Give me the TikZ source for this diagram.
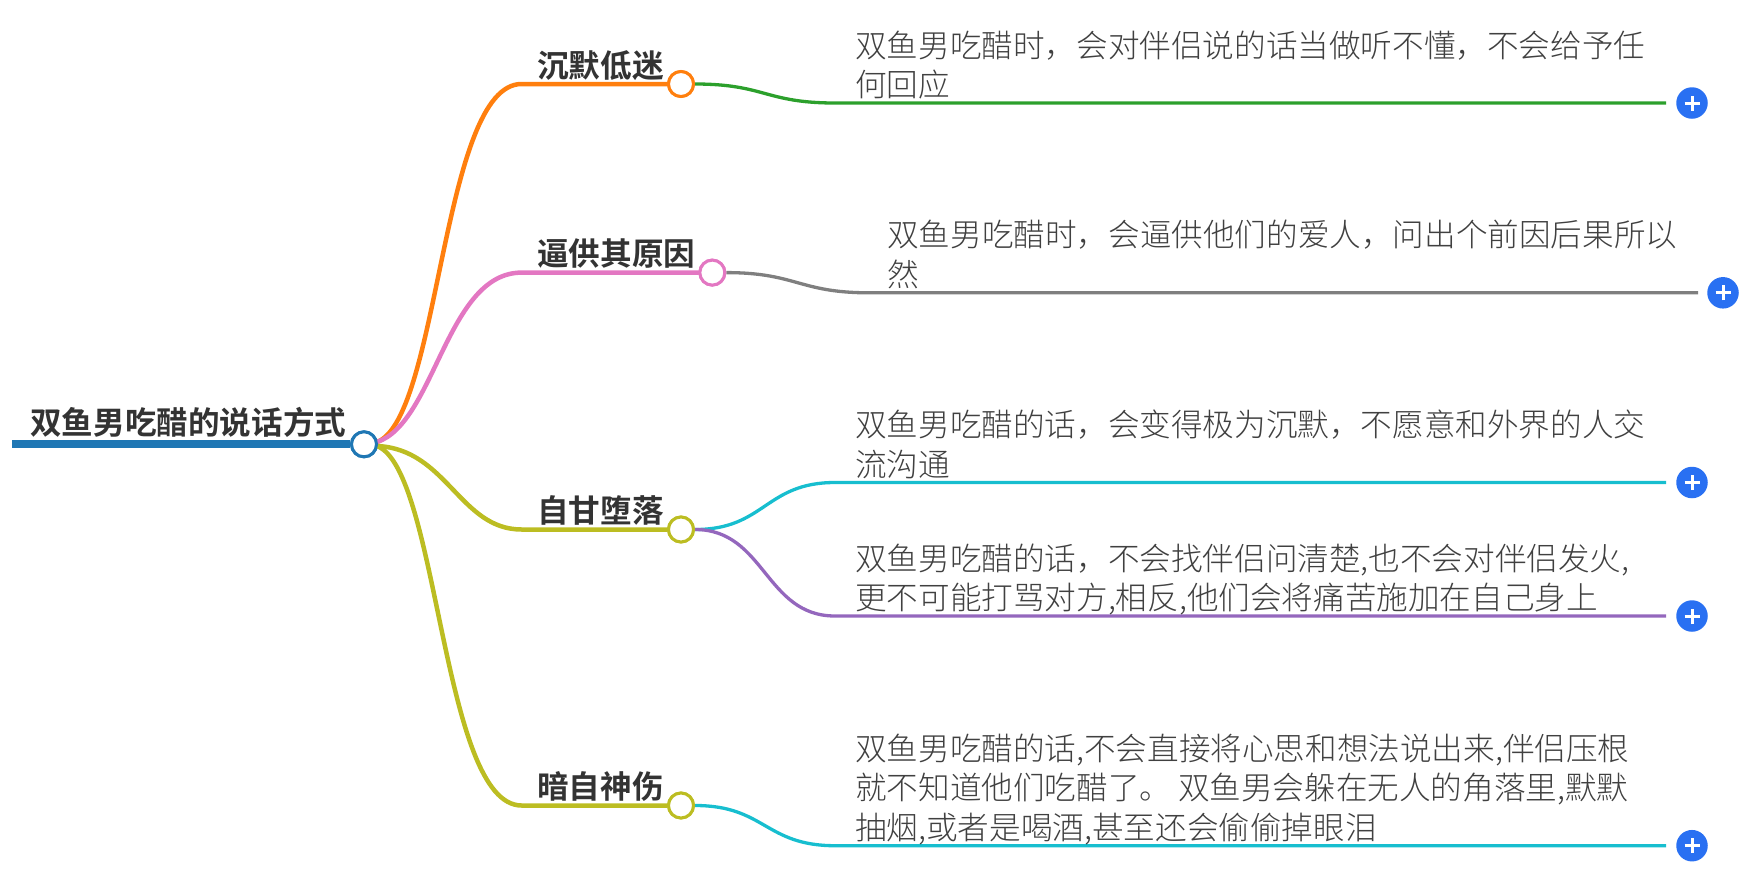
\documentclass[tikz,border=0pt]{standalone}
\usepackage{fontspec}
\setmainfont{Noto Sans CJK SC Light}[BoldFont={Noto Sans CJK SC Bold}]
\XeTeXlinebreaklocale "zh"
\definecolor{cRoot}{HTML}{1F77B4}
\definecolor{cOrange}{HTML}{FF7F0E}
\definecolor{cGreen}{HTML}{2CA02C}
\definecolor{cPink}{HTML}{E377C2}
\definecolor{cGray}{HTML}{7F7F7F}
\definecolor{cOlive}{HTML}{BCBD22}
\definecolor{cCyan}{HTML}{17BECF}
\definecolor{cPurple}{HTML}{9467BD}
\definecolor{cText}{HTML}{333333}
\definecolor{cBody}{HTML}{404040}
\definecolor{cPlus}{HTML}{2970F2}
\newcommand{\bstrut}{\rule[-8pt]{0pt}{8pt}}
\tikzset{
  x=1pt,y=-1pt,
  joint/.style={circle,draw=#1,fill=white,line width=3pt,minimum size=25pt,inner sep=0pt},
  rootlabel/.style={anchor=base west,inner sep=0pt,font=\fontsize{31.6}{36}\selectfont\bfseries,text=cText},
  body/.style={anchor=south west,inner sep=0pt,align=left,text=cBody,font=\fontsize{31.6}{39.5}\selectfont},
  plusbtn/.style={circle,fill=cPlus,minimum size=31.5pt,inner sep=0pt,
    path picture={\draw[white,line width=3pt]
      ([xshift=-7.5pt]path picture bounding box.center)--([xshift=7.5pt]path picture bounding box.center)
      ([yshift=-7.5pt]path picture bounding box.center)--([yshift=7.5pt]path picture bounding box.center);}},
  main/.style={line width=4.5pt,line cap=round},
  leafline/.style={line width=3.3pt},
}
\begin{document}
\begin{tikzpicture}
\useasboundingbox (0,0) rectangle (1759,871);
\coordinate (rs) at (12,444.3);
\node[joint=cRoot] (root) at (364,444.3) {};
\coordinate (ro) at (377,442);
\coordinate (ru) at (377,446);
\node[joint=cOrange] (b1) at (681,84) {};
\node[joint=cPink]   (b2) at (712.3,272.6) {};
\node[joint=cOlive]  (b3) at (681,529.5) {};
\node[joint=cOlive]  (b4) at (681,805.5) {};
\coordinate (b1s) at (521.6,84);
\coordinate (b2s) at (521.6,272.6);
\coordinate (b3s) at (521.6,529.5);
\coordinate (b4s) at (521.6,805.5);
\node[plusbtn] (p1) at (1692,103) {};
\node[plusbtn] (p2) at (1723,292.8) {};
\node[plusbtn] (p3) at (1692,482.5) {};
\node[plusbtn] (p4) at (1692,616) {};
\node[plusbtn] (p5) at (1692,845.7) {};
\coordinate (l1s) at (835,103);   \coordinate (l1e) at (1666,103);
\coordinate (l2s) at (869,292.8); \coordinate (l2e) at (1698,292.8);
\coordinate (l3s) at (835,482.5); \coordinate (l3e) at (1666,482.5);
\coordinate (l4s) at (835,616);   \coordinate (l4e) at (1666,616);
\coordinate (l5s) at (835,845.7); \coordinate (l5e) at (1666,845.7);
\draw[main,cOrange] (ro) .. controls +(63,-24) and +(-80,0) .. (b1s) -- (b1);
\draw[main,cPink]   (ro) .. controls +(58,-19) and +(-75,0) .. (b2s) -- (b2);
\draw[main,cOlive]  (ru) .. controls +(70,3) and +(-62,0) .. (b3s) -- (b3);
\draw[main,cOlive]  (ru) .. controls +(62,24) and +(-80,0) .. (b4s) -- (b4);
\draw[line width=8pt,cRoot] (rs) -- (root);
\draw[leafline,cGreen]  (b1.east) .. controls +(70,0) and +(-70,0) .. (l1s) -- (l1e);
\draw[leafline,cGray]   (b2.east) .. controls +(70,0) and +(-70,0) .. (l2s) -- (l2e);
\draw[leafline,cCyan]   (b3.east) .. controls +(70,0) and +(-70,0) .. (l3s) -- (l3e);
\draw[leafline,cPurple] (b3.east) .. controls +(70,0) and +(-70,0) .. (l4s) -- (l4e);
\draw[leafline,cCyan]   (b4.east) .. controls +(70,0) and +(-70,0) .. (l5s) -- (l5e);
\node[joint=cRoot] at (root) {};
\node[joint=cOrange] at (b1) {};
\node[joint=cPink] at (b2) {};
\node[joint=cOlive] at (b3) {};
\node[joint=cOlive] at (b4) {};
\node[rootlabel] (troot) at (30,434.6) {双鱼男吃醋的说话方式};
\node[rootlabel] (t1) at (537,77) {沉默低迷};
\node[rootlabel] (t2) at (537,265.6) {逼供其原因};
\node[rootlabel] (t3) at (537,522.5) {自甘堕落};
\node[rootlabel] (t4) at (537,798.5) {暗自神伤};
\node[body] (d1) at (855,104.8) {双鱼男吃醋时，会对伴侣说的话当做听不懂，不会给予任\\何回应\bstrut};
\node[body] (d2) at (887,294.6) {双鱼男吃醋时，会逼供他们的爱人，问出个前因后果所以\\然\bstrut};
\node[body] (d3) at (855,484.3) {双鱼男吃醋的话，会变得极为沉默，不愿意和外界的人交\\流沟通\bstrut};
\node[body] (d4) at (855,617.8) {双鱼男吃醋的话，不会找伴侣问清楚,也不会对伴侣发火,\\更不可能打骂对方,相反,他们会将痛苦施加在自己身上\bstrut};
\node[body] (d5) at (855,847.5) {双鱼男吃醋的话,不会直接将心思和想法说出来,伴侣压根\\就不知道他们吃醋了。 双鱼男会躲在无人的角落里,默默\\抽烟,或者是喝酒,甚至还会偷偷掉眼泪\bstrut};
\end{tikzpicture}
\end{document}
